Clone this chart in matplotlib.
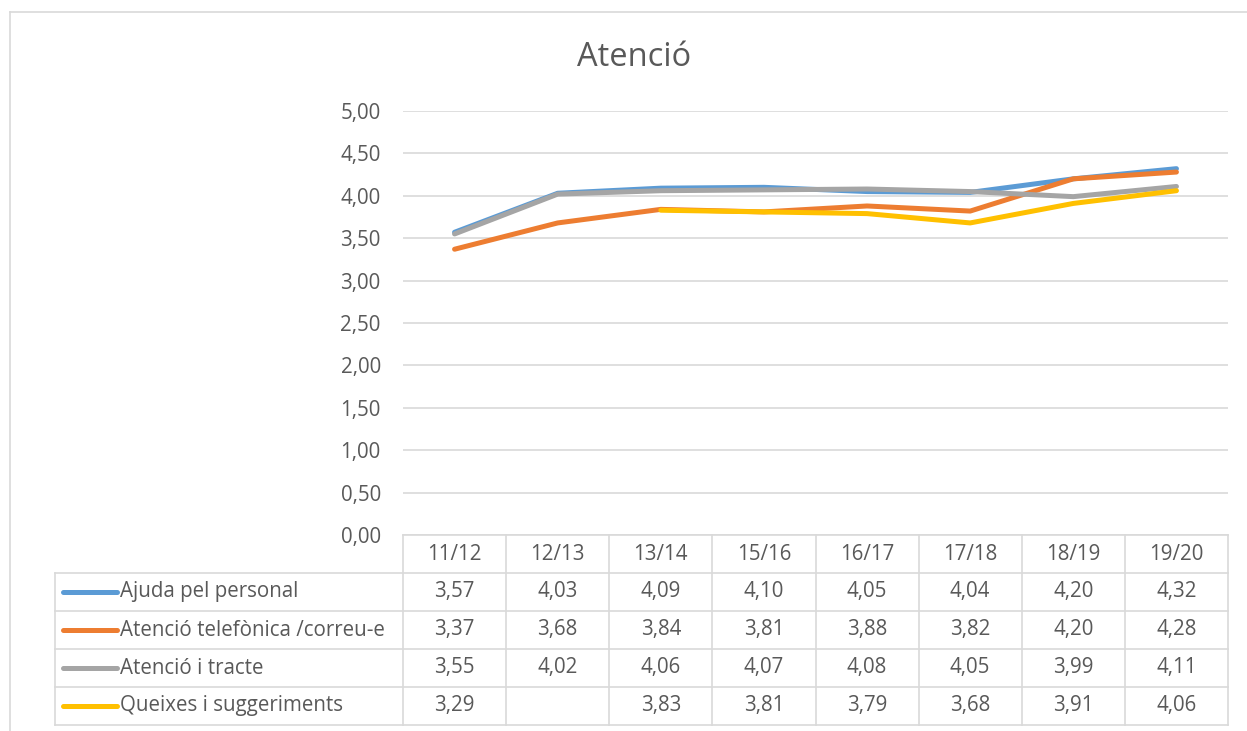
import matplotlib
matplotlib.use('Agg')
import matplotlib.pyplot as plt
from matplotlib.lines import Line2D
import numpy as np

blue = '#5B9BD5'
orange = '#ED7D31'
grey = '#A5A5A5'
yellow = '#FFC000'
text_col = '#595959'
grid_col = '#D9D9D9'

years = ['11/12', '12/13', '13/14', '15/16', '16/17', '17/18', '18/19', '19/20']
series_names = ['Ajuda pel personal', 'Atenció telefònica /correu-e',
                'Atenció i tracte', 'Queixes i suggeriments']
ajuda = [3.57, 4.03, 4.09, 4.10, 4.05, 4.04, 4.20, 4.32]
telefon = [3.37, 3.68, 3.84, 3.81, 3.88, 3.82, 4.20, 4.28]
tracte = [3.55, 4.02, 4.06, 4.07, 4.08, 4.05, 3.99, 4.11]
queixes = [3.29, np.nan, 3.83, 3.81, 3.79, 3.68, 3.91, 4.06]
colors = [blue, orange, grey, yellow]
yticks = [0, 0.5, 1, 1.5, 2, 2.5, 3, 3.5, 4, 4.5, 5]

plt.rcParams['font.family'] = ['Open Sans', 'DejaVu Sans']
fs = 14.8

W, H = 1247, 731
fig = plt.figure(figsize=(W / 100, H / 100), dpi=100)


def fx(px):
    return px / W


def fy(py):
    return 1 - py / H


# outer chart frame (only top and left visible)
fig.add_artist(Line2D([fx(10), 1.01], [fy(12), fy(12)], color=grid_col, lw=1.2))
fig.add_artist(Line2D([fx(10), fx(10)], [fy(12), -0.01], color=grid_col, lw=1.2))
fig.text(fx(634), fy(57), 'Atenció', ha='center', va='center', fontsize=23.5,
         color=text_col)

left, right, top, bottom = 403, 1228, 111, 535
ax = fig.add_axes([fx(left), fy(bottom), fx(right) - fx(left), fy(top) - fy(bottom)])
x = np.arange(len(years))
data = [ajuda, telefon, tracte, queixes]
for vals, c in zip(data, colors):
    ax.plot(x, vals, color=c, lw=3.6, solid_capstyle='round',
            solid_joinstyle='round', zorder=3)
ax.set_xlim(-0.5, len(years) - 0.5)
ax.set_ylim(0, 5)
ax.set_yticks(yticks)
ax.set_yticklabels([f'{v:.2f}'.replace('.', ',') for v in yticks])
ax.set_xticks([])
ax.tick_params(axis='y', length=0, pad=16, labelsize=fs, labelcolor=text_col)
ax.grid(axis='y', color=grid_col, lw=1.2)
for s in ax.spines.values():
    s.set_visible(False)

# data table under the plot
tleft, tbottom = 55, 725
ncols = len(years)
colw = (right - left) / ncols
off = (left - tleft) / colw
tax = fig.add_axes([fx(tleft), fy(tbottom), fx(right) - fx(tleft), fy(bottom) - fy(tbottom)])
tax.set_xlim(-0.5 - off, ncols - 0.5)
tax.set_ylim(5, 0)
tax.axis('off')
lk = dict(color=grid_col, lw=1.2, clip_on=False)
tax.plot([-0.5, ncols - 0.5], [0, 0], **lk)
for r in range(1, 6):
    tax.plot([-0.5 - off, ncols - 0.5], [r, r], **lk)
for c in range(ncols + 1):
    tax.plot([c - 0.5, c - 0.5], [0, 5], **lk)
tax.plot([-0.5 - off, -0.5 - off], [1, 5], **lk)

for i, yr in enumerate(years):
    tax.text(i, 0.5, yr, ha='center', va='center', fontsize=fs, color=text_col)
for r, (name, vals, c) in enumerate(zip(series_names, data, colors)):
    yy = r + 1.5
    tax.plot([-0.5 - off + 0.08, -0.5 - off + 0.6], [yy, yy], color=c, lw=3.6,
             solid_capstyle='round', clip_on=False)
    tax.text(-0.5 - off + 0.63, yy, name, ha='left', va='center',
             fontsize=fs, color=text_col)
    for i, v in enumerate(vals):
        if not np.isnan(v):
            tax.text(i, yy, f'{v:.2f}'.replace('.', ','), ha='center', va='center',
                     fontsize=fs, color=text_col)

fig.savefig('out.png', dpi=100)
